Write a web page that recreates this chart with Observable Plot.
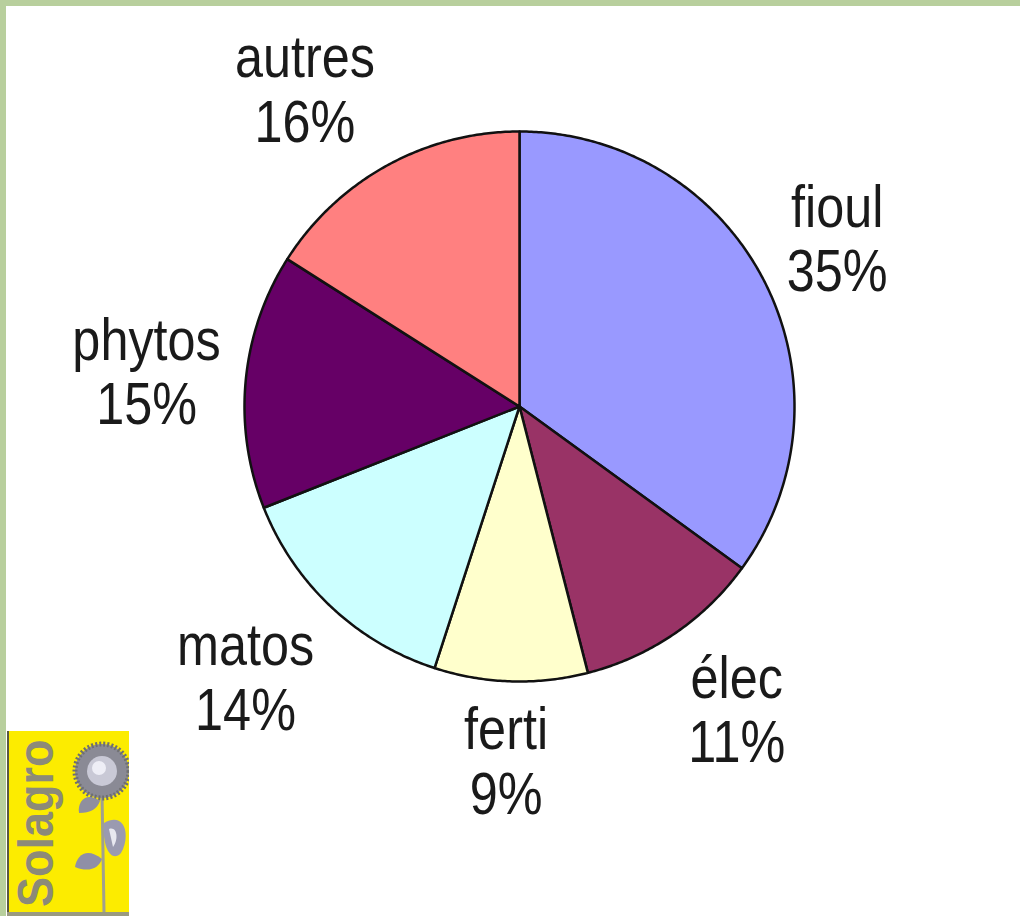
<!DOCTYPE html>
<html>
<head>
<meta charset="utf-8">
<script src="https://cdn.jsdelivr.net/npm/d3@7"></script>
<script src="https://cdn.jsdelivr.net/npm/@observablehq/plot@0.6"></script>
<style>
  html, body { margin: 0; padding: 0; background: #fff; overflow: hidden; }
  #frame { position: relative; width: 1020px; height: 916px; box-sizing: border-box;
           border-top: 6px solid #b8cf9d; border-left: 6px solid #b8cf9d; background: #fff; }
  #chart { position: absolute; left: 0; top: 0; }
  #logo { position: absolute; left: 1px; top: 725px; }
</style>
</head>
<body>
<div id="frame">
  <div id="chart"></div>
  <svg id="logo" width="122" height="185" viewBox="0 0 122 185">
    <rect x="0" y="0" width="122" height="183" fill="#fcec00"/>
    <rect x="0" y="0" width="2" height="183" fill="#5a5a40"/>
    <rect x="0" y="181" width="122" height="4" fill="#9a9a80"/>
    <text transform="translate(46,176) rotate(-90) scale(1,1.1)" font-family="Liberation Sans, Arial, sans-serif"
          font-weight="bold" font-size="45" fill="#8c8a78">Solagro</text>
    <line x1="95" y1="62" x2="97" y2="181" stroke="#a0a090" stroke-width="3"/>
    <circle cx="95" cy="40" r="27" fill="#8a8a95"/>
    <circle cx="95" cy="40" r="27" fill="none" stroke="#6f6f70" stroke-width="5" stroke-dasharray="2 2"/>
    <circle cx="95" cy="40" r="15" fill="#c9c9d6"/>
    <circle cx="92" cy="37" r="7" fill="#eeeef6"/>
    <path d="M97 92 C 118 80, 124 105, 114 122 C 105 132, 95 118, 97 92 Z" fill="#9a9ab0"/>
    <path d="M102 98 C 110 95, 112 108, 106 116 Z" fill="#e8e8f0"/>
    <path d="M95 128 C 80 116, 70 124, 68 136 C 82 142, 92 137, 95 128 Z" fill="#8f8fa6"/>
    <path d="M93 70 C 80 60, 70 70, 72 82 C 84 82, 90 78, 93 70 Z" fill="#8f8f9f"/>
  </svg>
</div>
<script>
// ---- data ----
const categories = ["fioul", "élec", "ferti", "matos", "phytos", "autres"];
const shares = [35, 11, 9, 14, 15, 16];
const colors = ["#9999FF", "#993366", "#FFFFCC", "#CCFFFF", "#660066", "#FF8080"];
const labelTexts = ["fioul\n35%", "élec\n11%", "ferti\n9%", "matos\n14%", "phytos\n15%", "autres\n16%"];

// ---- layout (SVG sits inside the 6px frame) ----
const W = 1014, H = 910, cx = 513, cy = 400, R = 275;
const FS = 60, SX = 0.84, LH = 1.07;
const FONT = "Liberation Sans, Arial, sans-serif";
const total = d3.sum(shares);

// measure label boxes to place them outside the pie like a spreadsheet does
const ctx = document.createElement("canvas").getContext("2d");
ctx.font = `${FS}px "Liberation Sans"`;
const boxW = t => d3.max(t.split("\n"), s => ctx.measureText(s).width) * SX;
const halfH = 0.85 * FS * LH;
const clamp = v => Math.max(-1, Math.min(1, v));

const slicePts = [];
const labels = [];
let acc = 0;
categories.forEach((cat, i) => {
  const a0 = acc / total * 2 * Math.PI;
  acc += shares[i];
  const a1 = acc / total * 2 * Math.PI;
  slicePts.push({cat, x: 0, y: 0});
  const n = Math.max(2, Math.ceil((a1 - a0) / (Math.PI / 360)));
  for (let k = 0; k <= n; k++) {
    const a = a0 + (a1 - a0) * k / n;
    slicePts.push({cat, x: Math.sin(a), y: Math.cos(a)});
  }
  slicePts.push({cat, x: 0, y: 0});
  const am = (a0 + a1) / 2, d = 300 / R;
  const s = Math.sin(am), c = Math.cos(am);
  const w = boxW(labelTexts[i]);
  labels.push({
    cat, text: labelTexts[i],
    x: d * s + clamp(3 * s) * (w / 2) / R,
    y: d * c + clamp(1.3 * c) * halfH / R
  });
});

const chart = Plot.plot({
  width: W,
  height: H,
  margin: 0,
  style: {background: "transparent"},
  x: {domain: [-cx / R, (W - cx) / R], range: [0, W], axis: null},
  y: {domain: [-(H - cy) / R, cy / R], range: [H, 0], axis: null},
  color: {domain: categories, range: colors},
  marks: [
    Plot.line(slicePts, {x: "x", y: "y", z: "cat", fill: "cat", stroke: "#111", strokeWidth: 2.5,
      strokeLinejoin: "round", curve: "linear"}),
    Plot.text(labels, {x: "x", y: "y", text: "text", fontSize: FS, lineHeight: LH,
      fill: "#1a1a1a", fontFamily: FONT})
  ]
});
// narrow the label glyphs horizontally, as in the original rendering
d3.select(chart).selectAll("text").each(function() {
  const t = this.getAttribute("transform");
  if (t) {
    this.setAttribute("transform", `${t} scale(${SX},1)`);
  } else {
    const x = +this.getAttribute("x") || 0, y = +this.getAttribute("y") || 0;
    this.setAttribute("x", 0); this.setAttribute("y", 0);
    this.setAttribute("transform", `translate(${x},${y}) scale(${SX},1)`);
  }
});
document.getElementById("chart").appendChild(chart);
</script>
</body>
</html>
